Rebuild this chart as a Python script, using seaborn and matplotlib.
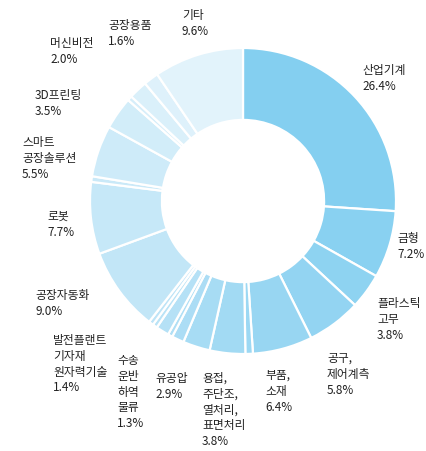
import matplotlib
matplotlib.use('Agg')
import matplotlib.pyplot as plt
import seaborn as sns

# ------------------------------- DATOS ---------------------------------------
# categorias en sentido horario desde arriba ('' = porcion sin etiqueta)
categories = ['산업기계', '금형', '플라스틱\n고무', '공구,\n제어계측', '부품,\n소재', '',
              '용접,\n주단조,\n열처리,\n표면처리', '유공압', '수송\n운반\n하역\n물류', '',
              '발전플랜트\n기자재\n원자력기술', '', '', '공장자동화', '로봇', '',
              '스마트\n공장솔루션', '3D프린팅', '', '머신비전', '공장용품', '기타']
shares = [26.4, 7.2, 3.8, 5.8, 6.4, 0.8,
          3.8, 2.9, 1.3, 0.5,
          1.4, 0.5, 0.5, 9.0, 7.7, 0.6,
          5.5, 3.5, 0.5, 2.0, 1.6, 9.6]

# posicion de cada etiqueta (pixeles: izquierda, arriba)
label_pos = {
    '산업기계': (362, 64), '금형': (397, 232), '플라스틱\n고무': (377, 297),
    '공구,\n제어계측': (327, 352), '부품,\n소재': (265, 369),
    '용접,\n주단조,\n열처리,\n표면처리': (202, 372), '유공압': (155, 372),
    '수송\n운반\n하역\n물류': (117, 354), '발전플랜트\n기자재\n원자력기술': (53, 334),
    '공장자동화': (35, 289), '로봇': (47, 210), '스마트\n공장솔루션': (22, 136),
    '3D프린팅': (35, 89), '머신비전': (50, 37), '공장용품': (108, 19), '기타': (182, 9),
}

# ------------------------------- GRAFICAR ---------------------------------------
W, H = 426, 452
fig = plt.figure(figsize=(W / 100, H / 100), dpi=100)
plt.rcParams['font.family'] = ['Noto Sans CJK KR', 'DejaVu Sans']

cx, cy, r = 243, 202, 153
ax = fig.add_axes([(cx - r) / W, (H - cy - r) / H, 2 * r / W, 2 * r / H])

colors = sns.blend_palette(['#84CFF0', '#B8E2F6', '#E2F3FB'], n_colors=len(shares))
ax.pie(shares, colors=colors, startangle=90, counterclock=False, radius=1,
       wedgeprops=dict(width=0.47, edgecolor='white', linewidth=1.6))
ax.set_xlim(-1, 1)
ax.set_ylim(-1, 1)
ax.set_aspect('equal')
ax.axis('off')

for name, val in zip(categories, shares):
    if not name:
        continue
    x, y = label_pos[name]
    fig.text(x / W, 1 - y / H, f'{name}\n{val:.1f}%', ha='left', va='top',
             fontsize=8.5, color='#222222', linespacing=1.28)

fig.savefig('out.png', dpi=100)
